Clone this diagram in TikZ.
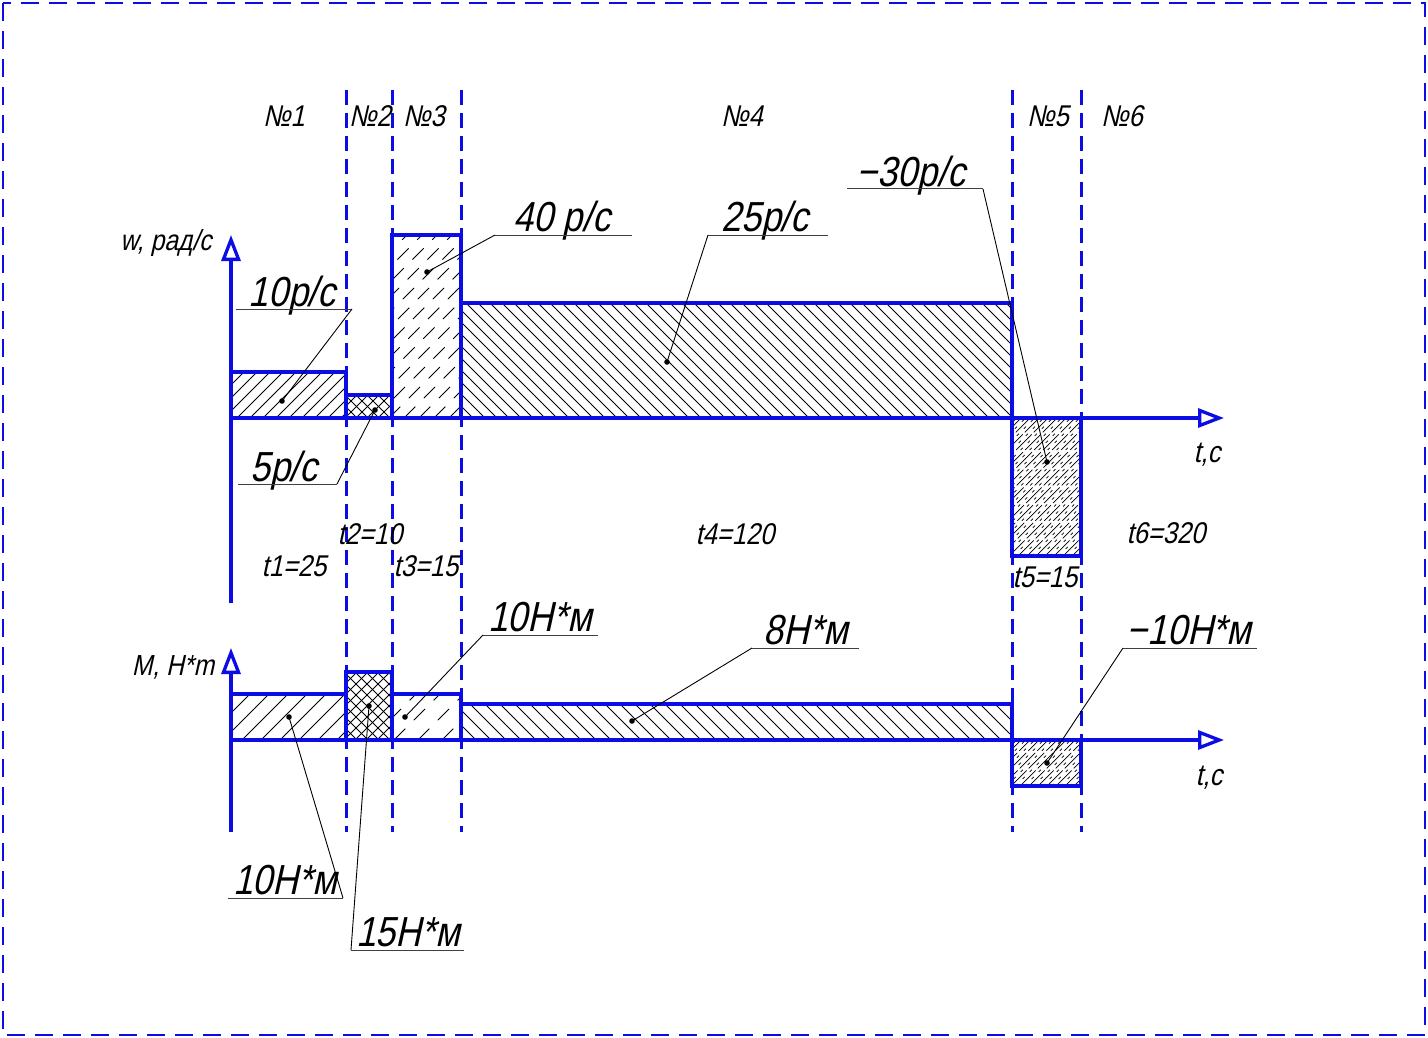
\documentclass[tikz,border=0pt]{standalone}
\usepackage{fontspec}
\newfontfamily\gost{Liberation Sans}[FakeStretch=0.85,FakeSlant=0.22]
\usetikzlibrary{arrows.meta}
\definecolor{gblue}{RGB}{12,12,228}
\newcommand\hatchF[7]{%
 \begin{scope}
 \clip (#1,#2) rectangle (#3,#4);
 \pgfmathsetmacro\hH{#4-#2}
 \pgfmathtruncatemacro\nN{(#3-#1+\hH)/#5+1}
 \foreach \i in {0,...,\nN}{
   \pgfmathsetmacro\xs{#1-\hH+#7+\i*#5}
   \draw[#6] (\xs,#4) -- ++(\hH,-\hH);
 }
 \end{scope}}
\newcommand\hatchB[7]{%
 \begin{scope}
 \clip (#1,#2) rectangle (#3,#4);
 \pgfmathsetmacro\hH{#4-#2}
 \pgfmathtruncatemacro\nN{(#3-#1+\hH)/#5+1}
 \foreach \i in {0,...,\nN}{
   \pgfmathsetmacro\xs{#1-\hH+#7+\i*#5}
   \draw[#6] (\xs,#2) -- ++(\hH,\hH);
 }
 \end{scope}}
\tikzset{
 frame/.style={gblue, line width=2.8pt, dash pattern=on 18pt off 10pt},
 divline/.style={gblue, line width=3pt, dash pattern=on 15pt off 8pt},
 bar/.style={gblue, line width=3.3pt},
 axis/.style={gblue, line width=3.3pt, -{Triangle[open,length=26pt,width=19pt]}},
 hsolid/.style={black, line width=0.75pt},
 hdashed/.style={black, line width=0.75pt, dash pattern=on 16pt off 12pt},
 hdense/.style={black, line width=0.7pt, dash pattern=on 22pt off 3pt},
 hdots/.style={black, line width=0.7pt, dash pattern=on 3pt off 7pt},
 leader/.style={black, line width=0.9pt},
 uline/.style={black!75, line width=1pt},
 ldot/.style={black},
 numlbl/.style={font=\gost\fontsize{30}{30}\selectfont, inner sep=0pt, anchor=base},
 biglbl/.style={font=\gost\fontsize{42}{42}\selectfont, inner sep=0pt, anchor=base},
 axlbl/.style={font=\gost\fontsize{29}{29}\selectfont, inner sep=0pt, anchor=base},
}
\begin{document}
\begin{tikzpicture}[x=1pt,y=-1pt]
\useasboundingbox (0,0) rectangle (1428,1038);
\draw[frame] (3,3) rectangle (1425,1035);

% dividing dashed lines
\foreach \xx/\nm in {346/a,392/b,461/c,1012/d,1081/e}{
  \coordinate (top\nm) at (\xx,90);
  \coordinate (bot\nm) at (\xx,832);
  \draw[divline] (top\nm) -- (bot\nm);
}

% hatching, upper graph
\hatchF{231}{372}{346}{418}{13}{hsolid}{0}
\hatchF{346}{395}{392}{418}{11}{hsolid}{0}
\hatchB{346}{395}{392}{418}{11}{hsolid}{0}
\hatchF{392}{235}{461}{418}{15}{hdashed}{0}
\hatchB{461}{303}{1012}{418}{12}{hsolid}{0}
\hatchF{1012}{418}{1081}{556}{9}{hdense}{0}
\hatchF{1012}{418}{1081}{556}{9}{hdots}{4.5}
% hatching, lower graph
\hatchF{231}{694}{346}{740}{19}{hsolid}{0}
\hatchF{346}{672}{392}{740}{11}{hsolid}{0}
\hatchB{346}{672}{392}{740}{11}{hsolid}{0}
\hatchF{392}{694}{461}{740}{24}{hdashed}{0}
\hatchB{461}{704}{1012}{740}{15}{hsolid}{0}
\hatchF{1012}{740}{1081}{786}{9}{hdense}{0}
\hatchF{1012}{740}{1081}{786}{9}{hdots}{4.5}

% bars
\draw[bar] (231,372) rectangle (346,418);
\draw[bar] (346,395) rectangle (392,418);
\draw[bar] (392,235) rectangle (461,418);
\draw[bar] (461,303) rectangle (1012,418);
\draw[bar] (1012,418) rectangle (1081,556);
\draw[bar] (231,694) rectangle (346,740);
\draw[bar] (346,672) rectangle (392,740);
\draw[bar] (392,694) rectangle (461,740);
\draw[bar] (461,704) rectangle (1012,740);
\draw[bar] (1012,740) rectangle (1081,786);

% axes
\coordinate (wfoot) at (231,603);
\coordinate (wtip) at (231,235);
\coordinate (tuorg) at (231,418);
\coordinate (tutip) at (1224,418);
\coordinate (mfoot) at (231,832);
\coordinate (mtip) at (231,648);
\coordinate (tlorg) at (231,740);
\coordinate (tltip) at (1224,740);
\draw[axis] (wfoot) -- (wtip);
\draw[axis] (tuorg) -- (tutip);
\draw[axis] (mfoot) -- (mtip);
\draw[axis] (tlorg) -- (tltip);

% axis labels
\node[axlbl] (wlab) at (166,250) {w, рад/с};
\node[axlbl] (mlab) at (173,675) {M, Н*m};
\node[numlbl] (tcu) at (1207,462) {t,с};
\node[numlbl] (tcl) at (1209,785) {t,с};

% section numbers
\node[numlbl] (n1) at (284,127) {№1};
\node[numlbl] (n2) at (370,127) {№2};
\node[numlbl] (n3) at (424,127) {№3};
\node[numlbl] (n4) at (742,127) {№4};
\node[numlbl] (n5) at (1048,127) {№5};
\node[numlbl] (n6) at (1122,127) {№6};

% durations
\node[numlbl] (t1) at (294,576) {t1=25};
\node[numlbl] (t2) at (370,544) {t2=10};
\node[numlbl] (t3) at (426,576) {t3=15};
\node[numlbl] (t4) at (735,544) {t4=120};
\node[numlbl] (t5) at (1045,587) {t5=15};
\node[numlbl] (t6) at (1166,543) {t6=320};

% leader labels: text, underline, leader line, dot
\node[biglbl] (l10w) at (292,306) {10р/с};
\coordinate (a10w) at (236,309); \coordinate (b10w) at (352,309); \coordinate (d10w) at (282,401);
\node[biglbl] (l5w) at (284,481) {5р/с};
\coordinate (a5w) at (238,484); \coordinate (b5w) at (337,484); \coordinate (d5w) at (375,410);
\node[biglbl] (l40w) at (562,232) {40 р/с};
\coordinate (a40w) at (495,235); \coordinate (b40w) at (632,235); \coordinate (d40w) at (427,272);
\node[biglbl] (l25w) at (765,232) {25р/с};
\coordinate (a25w) at (708,235); \coordinate (b25w) at (828,235); \coordinate (d25w) at (667,362);
\node[biglbl] (l30w) at (911,186) {−30р/с};
\coordinate (a30w) at (847,189); \coordinate (b30w) at (983,189); \coordinate (d30w) at (1047,462);
\node[biglbl] (l10m3) at (540,631) {10Н*м};
\coordinate (a10m3) at (483,635); \coordinate (b10m3) at (598,635); \coordinate (d10m3) at (405,717);
\node[biglbl] (l8m) at (806,644) {8Н*м};
\coordinate (a8m) at (752,648); \coordinate (b8m) at (859,648); \coordinate (d8m) at (632,721);
\node[biglbl] (l10mn) at (1189,644) {−10Н*м};
\coordinate (a10mn) at (1123,648); \coordinate (b10mn) at (1257,648); \coordinate (d10mn) at (1047,763);
\node[biglbl] (l10m1) at (285,894) {10Н*м};
\coordinate (a10m1) at (228,898); \coordinate (b10m1) at (343,898); \coordinate (d10m1) at (289,717);
\node[biglbl] (l15m) at (408,946) {15Н*м};
\coordinate (a15m) at (351,950); \coordinate (b15m) at (464,950); \coordinate (d15m) at (369,706);

\foreach \k in {10w,5w,40w,25w,30w,10m3,8m,10mn,10m1,15m}{
  \draw[uline] (a\k) -- (b\k);
  \fill[ldot] (d\k) circle (2.8pt);
}
\draw[leader] (b10w) -- (d10w);
\draw[leader] (b5w) -- (d5w);
\draw[leader] (a40w) -- (d40w);
\draw[leader] (a25w) -- (d25w);
\draw[leader] (b30w) -- (d30w);
\draw[leader] (a10m3) -- (d10m3);
\draw[leader] (a8m) -- (d8m);
\draw[leader] (a10mn) -- (d10mn);
\draw[leader] (b10m1) -- (d10m1);
\draw[leader] (a15m) -- (d15m);
\end{tikzpicture}
\end{document}
